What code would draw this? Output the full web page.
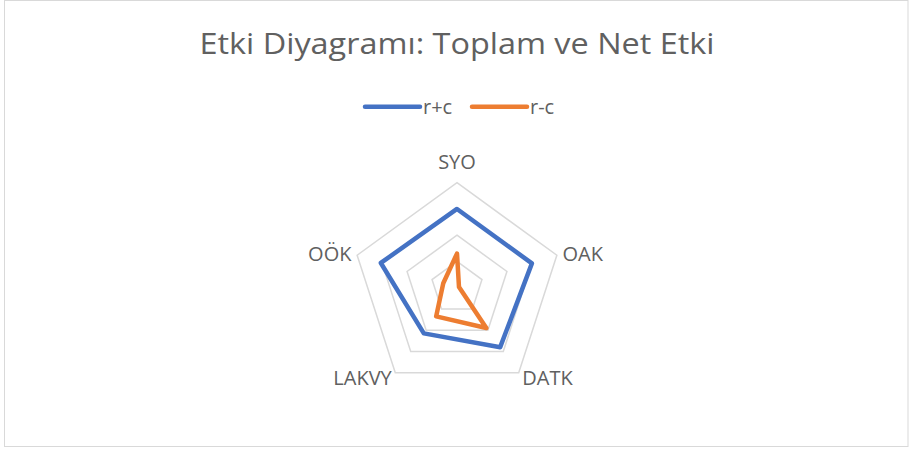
<!DOCTYPE html>
<html>
<head>
<meta charset="utf-8">
<script src="https://cdn.jsdelivr.net/npm/d3@7"></script>
<style>
  body { margin: 0; background: #fff; }
  text { font-family: 'Open Sans', sans-serif; fill: #606060; }
</style>
</head>
<body>
<div id="chart"></div>
<script>
let categories = ['SYO', 'OAK', 'DATK', 'LAKVY', 'OÖK']
let rPlusC = [3.0, 3.0, 2.8, 2.15, 3.05]
let rMinusC = [1.3, 0.08, 1.9, 1.35, 0.55]
let ticks = [1, 2, 3, 4]

let seriesNames = ['r+c', 'r-c']
let colors = ['#4472c4', '#ed7d31']

let width = 909
let height = 449
let cx = 457
let cy = 287.7
let radius = 105

let svg = d3
  .select('#chart')
  .append('svg')
  .attr('width', width)
  .attr('height', height)

svg
  .append('rect')
  .attr('x', 4.5)
  .attr('y', 0.5)
  .attr('width', 903.5)
  .attr('height', 446)
  .attr('fill', '#fff')
  .attr('stroke', '#d9d9d9')

let radiusScale = d3
  .scaleLinear()
  .domain([0, 4])
  .range([0, radius])

let angleScale = d3
  .scalePoint()
  .domain(categories.concat(['_end']))
  .range([0, Math.PI * 2])

let line = d3
  .lineRadial()
  .radius(d => radiusScale(d.value))
  .angle(d => angleScale(d.name))
  .curve(d3.curveLinearClosed)

let g = svg.append('g').attr('transform', `translate(${cx},${cy})`)

// grid rings
g.selectAll('.ring')
  .data(ticks)
  .enter()
  .append('path')
  .attr('class', 'ring')
  .attr('fill', 'none')
  .attr('stroke', '#d9d9d9')
  .attr('stroke-width', 1.5)
  .attr('d', t => line(categories.map(c => ({ name: c, value: t }))))

let series = [rPlusC, rMinusC].map((vals, i) => ({
  name: seriesNames[i],
  color: colors[i],
  points: categories.map((c, j) => ({ name: c, value: vals[j] }))
}))

g.selectAll('.series')
  .data(series)
  .enter()
  .append('path')
  .attr('class', 'series')
  .attr('fill', 'none')
  .attr('stroke', d => d.color)
  .attr('stroke-width', 4.5)
  .attr('stroke-linejoin', 'round')
  .attr('d', d => line(d.points))

g.selectAll('.axis-label')
  .data(categories)
  .enter()
  .append('text')
  .attr('class', 'axis-label')
  .attr('font-size', 20)
  .text(d => d)
  .attr('text-anchor', d => {
    let s = Math.sin(angleScale(d))
    if (Math.abs(s) < 0.1) return 'middle'
    return s > 0 ? 'start' : 'end'
  })
  .attr('x', d => Math.sin(angleScale(d)) * (radius + 6))
  .attr('y', d => {
    let a = angleScale(d)
    let y = -Math.cos(a) * (radius + 6)
    return Math.cos(a) > 0.9 ? y - 8 : y + 7.5
  })

svg
  .append('text')
  .attr('x', 457)
  .attr('y', 53.5)
  .attr('text-anchor', 'middle')
  .attr('font-size', 30)
  .attr('textLength', 515)
  .attr('lengthAdjust', 'spacingAndGlyphs')
  .text('Etki Diyagramı: Toplam ve Net Etki')

// legend
let legendX = [365, 472]
let legend = svg
  .selectAll('.legend')
  .data(series)
  .enter()
  .append('g')
  .attr('class', 'legend')
  .attr('transform', (d, i) => `translate(${legendX[i]},106.7)`)

legend
  .append('line')
  .attr('x1', 0)
  .attr('x2', 55)
  .attr('stroke', d => d.color)
  .attr('stroke-width', 4.5)
  .attr('stroke-linecap', 'round')

legend
  .append('text')
  .attr('x', 58)
  .attr('y', 7)
  .attr('font-size', 20)
  .text(d => d.name)
</script>
</body>
</html>
